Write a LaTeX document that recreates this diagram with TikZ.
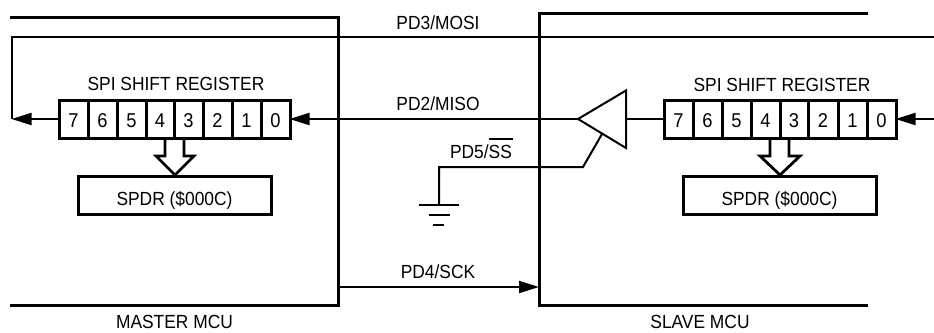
\documentclass[tikz,border=0pt]{standalone}
\usepackage{fontspec}
\setmainfont[FakeStretch=0.915]{Liberation Sans}
\usetikzlibrary{arrows.meta}
\tikzset{
  x=1pt,y=-1pt,
  txtsize/.style={font=\fontsize{19}{19}\selectfont},
  thick box/.style={draw=black,line width=3pt,minimum height=38pt,inner sep=0pt,outer sep=0pt,anchor=north west,txtsize,text height=19pt,text depth=0pt},
  cellbox/.style={draw=black,line width=3pt,minimum height=38pt,inner sep=0pt,outer sep=0pt,anchor=north west,font=\fontsize{20}{20}\selectfont,text height=16pt,text depth=0pt},
  lbl/.style={txtsize,inner sep=0pt,text height=14pt,text depth=0pt},
  mculine/.style={line width=3pt,line join=miter},
  wire/.style={line width=2pt},
  tip/.style={-{Triangle[length=20pt,width=12pt]},line width=2pt,shorten >=-0.5pt}
}
\begin{document}
\begin{tikzpicture}
\useasboundingbox (0,0) rectangle (934,332);
% MCU outlines
\coordinate (m1) at (10,17); \coordinate (m2) at (338,17); \coordinate (m3) at (338,305); \coordinate (m4) at (10,305);
\draw[mculine] (m1) -- (m2) -- (m3) -- (m4);
\coordinate (s1) at (868,13.5); \coordinate (s2) at (539,13.5); \coordinate (s3) at (539,305); \coordinate (s4) at (868,305);
\draw[mculine] (s1) -- (s2) -- (s3) -- (s4);
% registers
\foreach \n/\d/\x/\w in {a/7/59/29,b/6/88/29,c/5/117/29,d/4/146/28,e/3/174/29,f/2/203/29,g/1/232/29,h/0/261/29}{
  \node[cellbox,minimum width=\w pt] (m\n) at (\x,100) {\d};
}
\foreach \n/\d/\x/\w in {a/7/664/29,b/6/693/29,c/5/722/29,d/4/751/29,e/3/780/28,f/2/808/30,g/1/838/29,h/0/867/29}{
  \node[cellbox,minimum width=\w pt] (s\n) at (\x,100) {\d};
}
\node[thick box,minimum width=193pt] (mspdr) at (78,176.5) {SPDR (\$000C)};
\node[thick box,minimum width=193pt] (sspdr) at (683,176.5) {SPDR (\$000C)};
% hollow arrows
\draw[line width=2.8pt,line join=miter] (165,138) -- (165,156) -- (156,156) -- (175,175) -- (194,156) -- (184,156) -- (184,138);
\draw[line width=2.8pt,line join=miter] (770,138) -- (770,156) -- (760,156) -- (780,175) -- (800,156) -- (789,156) -- (789,138);
% buffer
\node[inner sep=0pt,outer sep=0pt] (buftip) at (578,119) {};
\coordinate (bufr) at (626,119);
\coordinate (bufss) at (602,134);
\draw[line width=2pt,line join=miter] (buftip.center) -- (626,90.5) -- (626,148) -- cycle;
% wires
\coordinate (mosiA) at (934,37); \coordinate (mosiB) at (12,37); \coordinate (mosiC) at (12,119);
\draw[wire] (mosiA) -- (mosiB) -- (mosiC);
\draw[tip] (ma.west) -- (mosiC);
\draw[tip] (buftip.center) -- (mh.east);
\coordinate (mright) at (934,119);
\draw[tip] (mright) -- (sh.east);
\draw[wire] (bufr) -- (sa.west);
\coordinate (ss1) at (583,167); \coordinate (ss2) at (439,167); \coordinate (ss3) at (439,205);
\draw[wire] (bufss) -- (ss1) -- (ss2) -- (ss3);
\draw[wire] (419,205) -- (459,205) (429,215) -- (450,215) (433,225) -- (444,225);
\coordinate (sck1) at (338,287); \coordinate (sck2) at (538.5,287);
\draw[tip] (sck1) -- (sck2);
% labels
\node[lbl] (l1) at (438,22) {PD3/MOSI};
\node[lbl] (l2) at (438,103) {PD2/MISO};
\node[lbl] (l3) at (481,151) {PD5/\rlap{\rule[18.5pt]{24pt}{1.6pt}}SS};
\node[lbl] (l4) at (438,271) {PD4/SCK};
\node[lbl] (l5) at (176,83) {SPI SHIFT REGISTER};
\node[lbl] (l6) at (782,84) {SPI SHIFT REGISTER};
\node[lbl] (l7) at (174.5,321.5) {MASTER MCU};
\node[lbl] (l8) at (700,321.5) {SLAVE MCU};
\end{tikzpicture}
\end{document}
